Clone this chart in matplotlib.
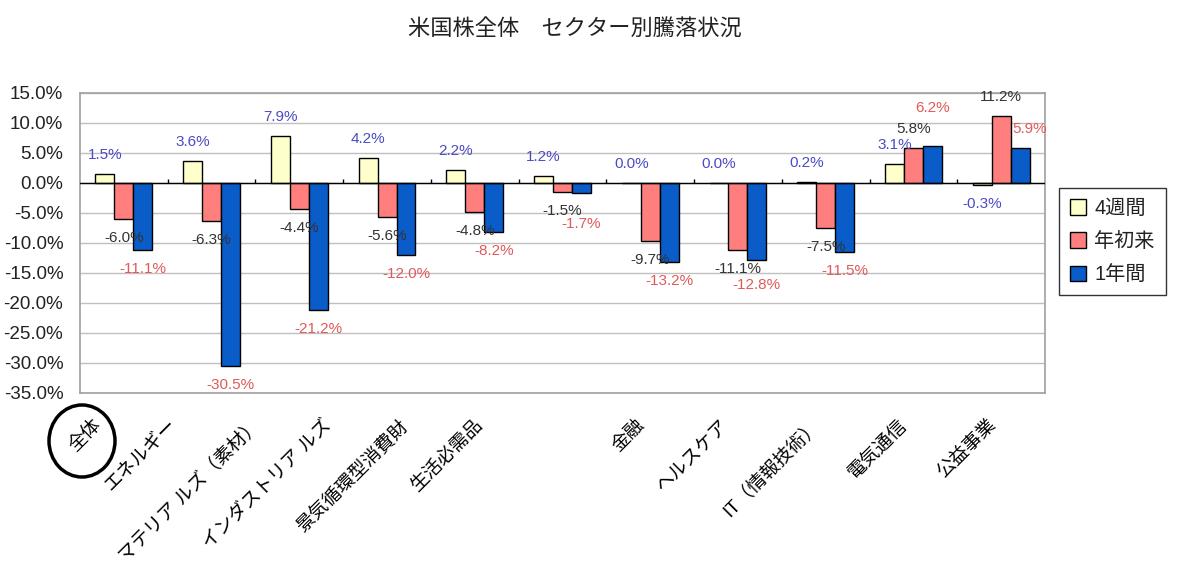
import matplotlib
matplotlib.use("Agg")
import numpy as np
import matplotlib.pyplot as plt
from matplotlib.patches import Ellipse, Patch
from matplotlib.ticker import FuncFormatter
from matplotlib.transforms import ScaledTranslation

plt.rcParams["font.family"] = ["Liberation Sans", "Noto Sans CJK JP"]

categories = ["全体", "エネルギー", "マテリア ルズ（素材）", "インダストリア ルズ",
              "景気循環型消費財", "生活必需品", "金融", "ヘルスケア",
              "IT（情報技術）", "電気通信", "公益事業"]
series_names = ["4週間", "年初来", "1年間"]
weeks4 = [1.5, 3.6, 7.9, 4.2, 2.2, 1.2, 0.0, 0.0, 0.2, 3.1, -0.3]
ytd = [-6.0, -6.3, -4.4, -5.6, -4.8, -1.5, -9.7, -11.1, -7.5, 5.8, 11.2]
year1 = [-11.1, -30.5, -21.2, -12.0, -8.2, -1.7, -13.2, -12.8, -11.5, 6.2, 5.9]

bar_colors = ["#FFFFCC", "#FF7F7F", "#0A5CC8"]
label_colors = ["#4B4BC4", "#333333", "#E05A5A"]

fig = plt.figure(figsize=(12, 5.84), dpi=100)
ax = fig.add_axes([80 / 1200, 1 - 393 / 584, 965 / 1200, 300 / 584])

x = np.arange(len(categories))
w = 0.216
# extra nudges (pixels) for crowded labels
nudge = {(2, 9): (0, 19), (2, 10): (10, 0), (2, 5): (0, -12), (2, 7): (0, -6)}

for k, vals in enumerate([weeks4, ytd, year1]):
    xs = x + (k - 1) * w
    ax.bar(xs, vals, width=w, color=bar_colors[k], edgecolor="black",
           linewidth=1, zorder=3, label=series_names[k])
    for i, (xi, v) in enumerate(zip(xs, vals)):
        dx, dy = nudge.get((k, i), (0, 0))
        off = 19 if v >= 0 else -19
        ax.annotate(f"{v:.1f}%", (xi, v), xytext=(dx, off + dy),
                    textcoords="offset pixels", ha="center", va="center",
                    fontsize=11, color=label_colors[k], zorder=5)

ax.set_xlim(-0.5, len(categories) - 0.5)
ax.set_ylim(-35, 15)
ax.set_yticks(np.arange(-35, 16, 5))
ax.yaxis.set_major_formatter(FuncFormatter(lambda v, p: f"{v:.1f}%"))
ax.tick_params(axis="y", length=0, labelsize=13.5, labelcolor="#222222", pad=12)
ax.grid(axis="y", color="#C0C0C0", linewidth=1, zorder=0)
ax.axhline(0, color="black", linewidth=1, zorder=4)
ax.vlines(x[1:] - 0.5, 0, 0.7, color="black", linewidth=1, zorder=4)
for s in ax.spines.values():
    s.set_color("#A0A0A0")
    s.set_linewidth(1.2)

ax.set_xticks(x)
ax.set_xticklabels(categories, rotation=45, ha="right", rotation_mode="anchor",
                   fontsize=13.5)
ax.tick_params(axis="x", length=0, pad=17)
shift_px = [31, 43, 47, 64, 76, 88, 14, 18, 14, 15, 13]
for lab, s in zip(ax.get_xticklabels(), shift_px):
    lab.set_transform(lab.get_transform() +
                      ScaledTranslation(-s / 100, 0, fig.dpi_scale_trans))

handles = [Patch(facecolor=c, edgecolor="black") for c in bar_colors]
leg = fig.legend(handles, series_names, loc="upper left",
                 bbox_to_anchor=(1059 / 1200, 1 - 188 / 584), fontsize=14.5,
                 frameon=True, fancybox=False, edgecolor="black",
                 handlelength=0.8, handleheight=0.8, handletextpad=0.4,
                 labelspacing=0.7, borderpad=0.55, borderaxespad=0)
leg.get_frame().set_linewidth(1)
for t in leg.get_texts():
    t.set_color("#222222")

fig.text(575 / 1200, 1 - 30 / 584, "米国株全体　セクター別騰落状況",
         ha="center", va="center", fontsize=16, color="#222222")

fig.add_artist(Ellipse((82 / 1200, 1 - 441 / 584), 66 / 1200, 72 / 584,
                       transform=fig.transFigure, fill=False,
                       edgecolor="black", linewidth=2.5))

fig.savefig("out.png", dpi=100)
